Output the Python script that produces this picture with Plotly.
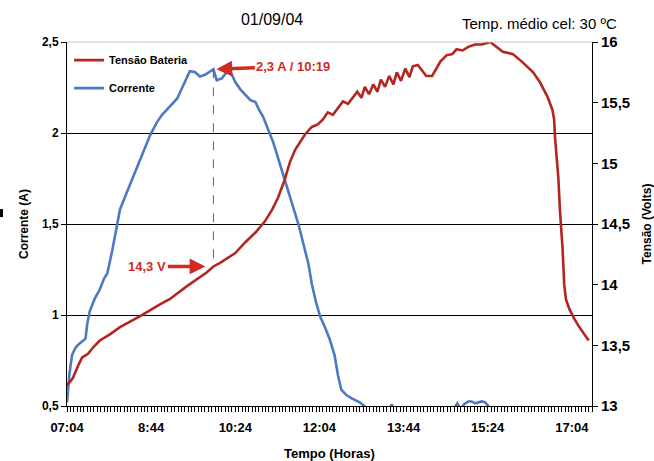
import plotly.graph_objects as go

# Registro de 01/09/04 - tempo em minutos contados a partir das 07:04
minutos_tensao = [0, 7, 13, 18, 25, 32, 39, 51, 63, 87, 111, 122, 143, 156, 166, 174,
                  182, 200, 212, 224, 235, 244, 251, 258, 265, 271, 277, 283, 291, 298,
                  304, 310, 316, 322, 328, 334, 339, 345, 350, 354, 359, 364, 369, 373,
                  378, 383, 388, 392, 397, 402, 407, 411, 417, 422, 427, 434, 439, 444,
                  451, 458, 463, 470, 477, 485, 493, 503, 518, 530, 542, 554, 562, 571,
                  577, 579, 580, 583, 584, 586, 589, 591, 593, 597, 602, 608, 614, 620]
tensao_v = [13.17, 13.23, 13.33, 13.40, 13.43, 13.49, 13.54, 13.59, 13.65, 13.74, 13.84,
            13.88, 13.99, 14.05, 14.10, 14.15, 14.18, 14.26, 14.35, 14.43, 14.52, 14.62,
            14.72, 14.85, 15.01, 15.11, 15.18, 15.24, 15.30, 15.32, 15.36, 15.42, 15.40,
            15.46, 15.51, 15.49, 15.54, 15.59, 15.54, 15.63, 15.57, 15.65, 15.59, 15.69,
            15.63, 15.72, 15.65, 15.75, 15.68, 15.78, 15.71, 15.80, 15.81, 15.76, 15.72,
            15.72, 15.78, 15.84, 15.89, 15.90, 15.94, 15.93, 15.96, 15.98, 15.98, 16.00,
            15.92, 15.90, 15.83, 15.75, 15.67, 15.55, 15.44, 15.36, 15.22, 15.01, 14.88,
            14.60, 14.30, 14.00, 13.88, 13.80, 13.73, 13.66, 13.60, 13.54]

minutos_corrente = [0, 3, 6, 10, 14, 19, 22, 24, 27, 33, 39, 44, 48, 54, 59, 63, 69, 75,
                    81, 87, 93, 99, 107, 113, 119, 125, 131, 137, 142, 146, 152, 158, 164,
                    169, 174, 178, 184, 190, 195, 200, 206, 212, 218, 224, 228, 233, 239,
                    245, 251, 257, 263, 269, 275, 281, 287, 291, 296, 301, 306, 312, 318,
                    322, 326, 332, 339, 348, 356, 364, 375, 382, 386, 390, 400, 455, 460,
                    464, 468, 472, 477, 481, 485, 489, 493, 497, 502, 510]
corrente_a = [0.52, 0.68, 0.78, 0.82, 0.84, 0.86, 0.87, 0.95, 1.02, 1.09, 1.14, 1.20,
              1.23, 1.36, 1.49, 1.58, 1.65, 1.72, 1.79, 1.85, 1.92, 1.99, 2.06, 2.10,
              2.13, 2.16, 2.19, 2.25, 2.30, 2.34, 2.335, 2.31, 2.32, 2.335, 2.35, 2.29,
              2.30, 2.335, 2.33, 2.28, 2.24, 2.21, 2.18, 2.17, 2.13, 2.09, 2.02, 1.95,
              1.86, 1.77, 1.69, 1.59, 1.50, 1.39, 1.28, 1.17, 1.07, 0.99, 0.94, 0.87,
              0.78, 0.67, 0.59, 0.56, 0.54, 0.52, 0.49, 0.45, 0.45, 0.47, 0.51, 0.46,
              0.45, 0.45, 0.49, 0.515, 0.48, 0.51, 0.525, 0.525, 0.515, 0.52, 0.525,
              0.52, 0.49, 0.45]

rotulos_hora = ["07:04", "8:44", "10:24", "12:04", "13:44", "15:24", "17:04"]
posicoes_hora = [0, 100, 200, 300, 400, 500, 600]

faixa_corrente = [0.5, 2.5]
faixa_tensao = [13, 16]
faixa_tempo = [0, 624]

VERMELHO = "#B3261E"
AZUL = "#4B79C3"
ROTULO = "#D22A1F"
FONTE = "Liberation Sans, Arial, sans-serif"

# pico da corrente e tensão da bateria no mesmo instante
i_pico = max(range(len(corrente_a)), key=lambda i: corrente_a[i])
t_pico = minutos_corrente[i_pico]
a_pico = corrente_a[i_pico]
v_pico = tensao_v[minutos_tensao.index(t_pico)]
# tensão convertida para a escala do eixo da corrente
escala = (faixa_corrente[1] - faixa_corrente[0]) / (faixa_tensao[1] - faixa_tensao[0])
v_pico_em_a = faixa_corrente[0] + (v_pico - faixa_tensao[0]) * escala

fig = go.Figure()
fig.add_trace(go.Scatter(
    x=minutos_tensao, y=tensao_v, yaxis="y2", mode="lines",
    name="Tensão Bateria", line=dict(color=VERMELHO, width=2.6),
    legendgroup="tensao",
))
fig.add_trace(go.Scatter(
    x=minutos_corrente, y=corrente_a, mode="lines",
    name="Corrente", line=dict(color=AZUL, width=2.6),
    legendgroup="corrente",
))

eixo_fonte = dict(family=FONTE, color="black", weight="bold")

fig.update_layout(
    width=654, height=461,
    margin=dict(l=67, r=62, t=42, b=55, autoexpand=False),
    paper_bgcolor="white", plot_bgcolor="white",
    separators=", ",
    font=dict(family=FONTE, color="black"),
    title=dict(text="01/09/04", x=0.416, xanchor="center", y=0.957, yanchor="middle",
               font=dict(family=FONTE, size=16, color="black")),
    xaxis=dict(
        range=faixa_tempo, tickvals=posicoes_hora, ticktext=rotulos_hora,
        showline=True, linecolor="black", linewidth=1, automargin=False,
        ticks="outside", ticklen=5, tickcolor="black", ticklabelstandoff=4,
        minor=dict(dtick=4, tick0=0, ticks="outside", ticklen=5, tickcolor="black"),
        showgrid=False, zeroline=False,
        tickfont=dict(eixo_fonte, size=13),
        title=dict(text="Tempo (Horas)", font=dict(eixo_fonte, size=13), standoff=20),
    ),
    yaxis=dict(
        range=faixa_corrente, dtick=0.5, tick0=0.5, automargin=False,
        showline=True, linecolor="black", linewidth=1,
        ticks="outside", ticklen=5, tickcolor="black",
        showgrid=True, gridcolor="black", gridwidth=1, zeroline=False,
        tickfont=dict(eixo_fonte, size=12),
        title=dict(text="Corrente (A)", font=dict(eixo_fonte, size=12), standoff=10),
    ),
    yaxis2=dict(
        range=faixa_tensao, dtick=0.5, tick0=13, overlaying="y", side="right",
        showline=True, linecolor="black", linewidth=1, automargin=False,
        ticks="outside", ticklen=5, tickcolor="black",
        showgrid=False, zeroline=False,
        tickfont=dict(eixo_fonte, size=15),
        title=dict(text="Tensão (Volts)", font=dict(eixo_fonte, size=12), standoff=15),
    ),
    legend=dict(
        x=0.004, y=0.99, xanchor="left", yanchor="top",
        bgcolor="rgba(255,255,255,0)", traceorder="grouped", tracegroupgap=9,
        font=dict(eixo_fonte, size=11),
    ),
    showlegend=True,
)

# borda superior clara da área de plotagem
fig.add_shape(type="line", xref="paper", yref="paper", x0=0, x1=1, y0=1, y1=1,
              line=dict(color="#C8C8C8", width=1), layer="above")

# linha tracejada ligando o pico da corrente à tensão no mesmo instante
fig.add_shape(type="line", xref="x", yref="y", x0=t_pico, x1=t_pico,
              y0=a_pico, y1=v_pico_em_a,
              line=dict(color="#C0392B", width=1, dash="dash"), layer="above")

# pequena marca à esquerda
fig.add_shape(type="rect", xref="paper", yref="paper",
              x0=-0.1276, x1=-0.1219, y0=0.519, y1=0.541,
              fillcolor="black", line=dict(width=0))

rotulo_fonte = dict(family=FONTE, size=13, color=ROTULO, weight="bold")
fig.add_annotation(
    x=t_pico, y=a_pico, xref="x", yref="y", text="2,3 A / 10:19",
    showarrow=True, ax=80, ay=-3, arrowhead=2, arrowsize=0.9, arrowwidth=3.5,
    arrowcolor=ROTULO, standoff=3, font=rotulo_fonte,
)
fig.add_annotation(
    x=t_pico, y=v_pico, xref="x", yref="y2", text="14,3 V",
    showarrow=True, ax=-66, ay=0, arrowhead=2, arrowsize=0.9, arrowwidth=3.5,
    arrowcolor=ROTULO, standoff=8, font=rotulo_fonte,
)
fig.add_annotation(
    x=0.9, y=1.05, xref="paper", yref="paper", text="Temp. médio cel: 30 ºC",
    showarrow=False, xanchor="center", yanchor="middle",
    font=dict(family=FONTE, size=15, color="black"),
)

fig.write_html("out.html")
